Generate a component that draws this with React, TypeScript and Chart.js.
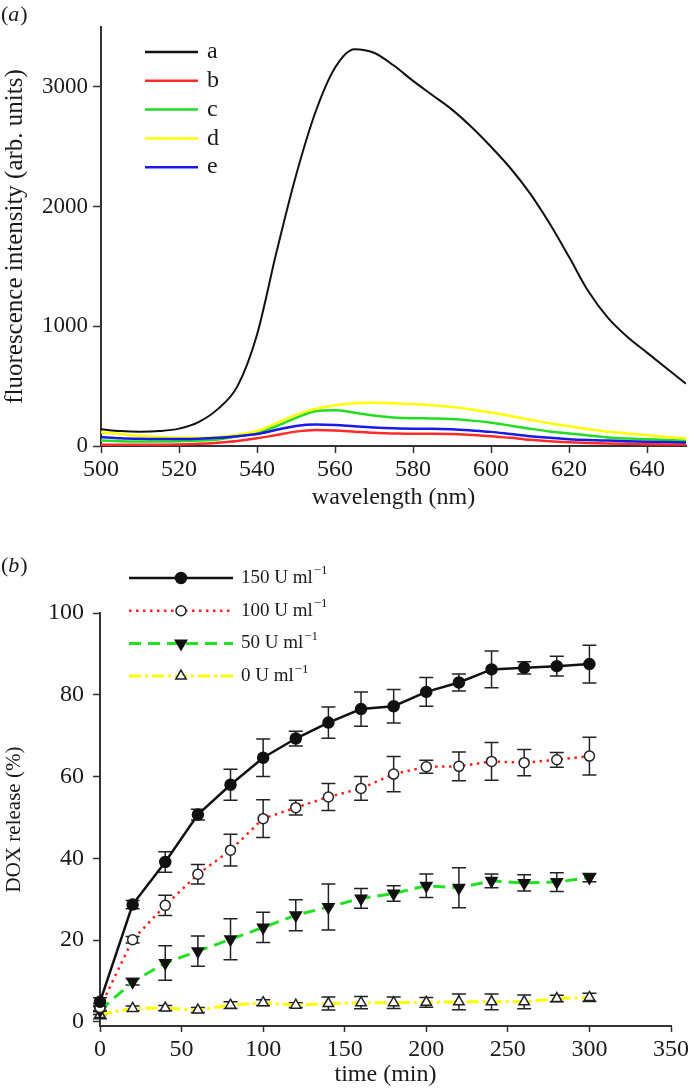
import React, { useEffect, useRef } from "react";
import { Chart, registerables } from "chart.js";
Chart.register(...registerables);

const FONT = '"Liberation Serif", "Times New Roman", serif';
const INK = "#1a1a1a";

// ---------- (a) fluorescence spectra ----------
const wavelengths = [500, 505, 510, 515, 520, 525, 530, 535, 540, 545, 550, 555, 560, 565, 570, 575, 580, 585, 590, 595, 600, 605, 610, 615, 620, 625, 630, 635, 640, 645, 650];
const specA = [140, 125, 120, 125, 145, 200, 310, 500, 930, 1620, 2260, 2790, 3160, 3315, 3285, 3180, 3050, 2930, 2810, 2665, 2500, 2320, 2110, 1860, 1580, 1290, 1070, 910, 780, 650, 520];
const specB = [10, 10, 10, 11, 13, 18, 28, 42, 64, 92, 120, 133, 130, 120, 110, 105, 102, 102, 100, 92, 82, 68, 52, 40, 32, 26, 21, 18, 15, 13, 12];
const specC = [45, 40, 38, 38, 40, 45, 55, 80, 112, 165, 235, 290, 298, 278, 255, 238, 232, 230, 225, 212, 195, 170, 145, 122, 105, 88, 72, 63, 57, 50, 45];
const specD = [115, 100, 85, 75, 68, 68, 75, 95, 125, 190, 260, 310, 340, 358, 362, 358, 350, 340, 325, 305, 280, 250, 220, 190, 165, 140, 120, 105, 90, 75, 62];
const specE = [75, 65, 60, 58, 58, 60, 68, 82, 100, 135, 168, 180, 176, 165, 155, 148, 145, 145, 140, 130, 118, 100, 82, 68, 57, 50, 45, 40, 36, 33, 30];
const specLabels = ["a", "b", "c", "d", "e"];
const specColors = ["#111111", "#ff2b2b", "#22dd22", "#ffff00", "#1a1ae6"];
const specTicksX = [500, 520, 540, 560, 580, 600, 620, 640];
const specTicksY = [0, 1000, 2000, 3000];

// ---------- (b) DOX release ----------
const times = [0, 20, 40, 60, 80, 100, 120, 140, 160, 180, 200, 220, 240, 260, 280, 300];
const rel150 = [4.9, 28.7, 39.1, 50.7, 58.0, 64.6, 69.3, 73.2, 76.5, 77.2, 80.7, 83.0, 86.2, 86.6, 87.0, 87.5];
const err150 = [1.0, 1.0, 2.5, 1.3, 3.8, 4.6, 1.8, 3.8, 4.2, 4.1, 3.5, 2.1, 4.5, 1.5, 2.4, 4.6];
const rel100 = [3.5, 20.1, 28.5, 36.1, 42.0, 49.7, 52.4, 55.0, 57.1, 60.6, 62.4, 62.5, 63.7, 63.4, 64.1, 65.0];
const err100 = [1.0, 0.8, 2.5, 2.4, 3.9, 4.6, 1.8, 3.3, 2.9, 4.3, 1.6, 3.5, 4.6, 3.2, 1.8, 4.6];
const rel50 = [2.8, 9.8, 14.4, 17.3, 20.2, 23.1, 26.1, 28.1, 30.2, 31.4, 33.3, 32.8, 34.5, 34.0, 34.2, 35.3];
const err50 = [1.0, 0.8, 4.2, 3.7, 5.0, 3.7, 3.8, 5.6, 2.4, 1.9, 2.9, 4.9, 1.7, 2.0, 2.3, 1.0];
const rel0 = [1.8, 3.3, 3.4, 2.9, 4.1, 4.7, 4.1, 4.5, 4.7, 4.7, 4.8, 4.9, 4.9, 4.9, 5.7, 6.0];
const err0 = [1.0, 0.6, 0.6, 0.6, 0.8, 0.7, 0.6, 1.6, 1.5, 1.4, 1.2, 1.9, 1.9, 1.7, 0.8, 1.0];
const relLabels = ["150 U ml", "100 U ml", "50 U ml", "0 U ml"];
const relSup = "\u22121";
const relTicksX = [0, 50, 100, 150, 200, 250, 300, 350];
const relTicksY = [0, 20, 40, 60, 80, 100];

function drawMarker(ctx: CanvasRenderingContext2D, style: string, rot: number, r: number, x: number, y: number, fill: string, stroke: string, lw: number) {
  ctx.save();
  ctx.beginPath();
  if (style === "triangle") {
    let rad = (rot * Math.PI) / 180;
    ctx.moveTo(x + Math.sin(rad) * r, y - Math.cos(rad) * r);
    rad += (2 * Math.PI) / 3;
    ctx.lineTo(x + Math.sin(rad) * r, y - Math.cos(rad) * r);
    rad += (2 * Math.PI) / 3;
    ctx.lineTo(x + Math.sin(rad) * r, y - Math.cos(rad) * r);
    ctx.closePath();
  } else {
    ctx.arc(x, y, r, 0, Math.PI * 2);
  }
  ctx.fillStyle = fill;
  ctx.fill();
  ctx.lineWidth = lw;
  ctx.strokeStyle = stroke;
  ctx.setLineDash([]);
  ctx.stroke();
  ctx.restore();
}

function panelLabel(ctx: CanvasRenderingContext2D, letter: string, x: number, y: number) {
  ctx.save();
  ctx.fillStyle = INK;
  ctx.textBaseline = "middle";
  ctx.font = `22px ${FONT}`;
  ctx.fillText("(", x, y);
  let w = ctx.measureText("(").width;
  ctx.font = `italic 22px ${FONT}`;
  ctx.fillText(letter, x + w, y);
  w += ctx.measureText(letter).width;
  ctx.font = `22px ${FONT}`;
  ctx.fillText(")", x + w + 1, y);
  ctx.restore();
}

function makeAxis(opts: any) {
  return {
    type: "linear",
    min: opts.min,
    max: opts.max,
    afterBuildTicks: (s: any) => {
      s.ticks = opts.ticks.map((v: number) => ({ value: v }));
    },
    afterFit: (s: any) => {
      if (opts.width !== undefined) s.width = opts.width;
      if (opts.height !== undefined) s.height = opts.height;
    },
    grid: { drawOnChartArea: false, drawTicks: true, tickLength: opts.tickLength, tickColor: "#333", tickWidth: 1.5 },
    border: { display: true, color: "#333", width: 2 },
    ticks: {
      color: INK,
      font: { family: FONT, size: opts.tickSize },
      padding: opts.tickPad,
      maxRotation: 0,
      autoSkip: false,
      callback: (v: any) => String(v),
    },
    title: { display: true, text: opts.title, color: INK, font: { family: FONT, size: opts.titleSize }, padding: opts.titlePad },
  };
}

export default function App() {
  const topRef = useRef<HTMLCanvasElement>(null);
  const botRef = useRef<HTMLCanvasElement>(null);

  useEffect(() => {
    const specSeries = [specA, specB, specC, specD, specE];
    const specLegend = {
      id: "specLegend",
      afterDraw(chart: any) {
        const ctx = chart.ctx;
        ctx.save();
        chart.data.datasets.forEach((ds: any, i: number) => {
          const y = 52 + i * 28.8;
          ctx.beginPath();
          ctx.strokeStyle = ds.borderColor;
          ctx.lineWidth = 2.5;
          ctx.moveTo(145, y);
          ctx.lineTo(198, y);
          ctx.stroke();
          ctx.fillStyle = INK;
          ctx.font = `24px ${FONT}`;
          ctx.textBaseline = "middle";
          ctx.fillText(ds.label, 207, y);
        });
        ctx.restore();
        panelLabel(ctx, "a", 1, 15);
      },
    };
    const top = new Chart(topRef.current!, {
      type: "line",
      data: {
        datasets: specSeries.map((arr, i) => ({
          label: specLabels[i],
          data: wavelengths.map((w, j) => ({ x: w, y: arr[j] })),
          borderColor: specColors[i],
          borderWidth: i === 0 ? 2 : 2.5,
          pointRadius: 0,
          cubicInterpolationMode: "monotone",
          fill: false,
          order: i === 0 ? 0 : 5 - i,
        })),
      },
      options: {
        animation: false,
        responsive: false,
        devicePixelRatio: 1,
        layout: { padding: { left: 0, right: 6, top: 27, bottom: 0 } },
        plugins: { legend: { display: false }, tooltip: { enabled: false } },
        scales: {
          x: makeAxis({ min: 500, max: 650, ticks: specTicksX, height: 74, tickLength: 7, tickSize: 24, tickPad: 2, title: "wavelength (nm)", titleSize: 24, titlePad: { top: 0, bottom: 8 } }),
          y: makeAxis({ min: 0, max: 3500, ticks: specTicksY, width: 101, tickLength: 8, tickSize: 23, tickPad: 5, title: "fluorescence intensity (arb. units)", titleSize: 25, titlePad: { top: 0, bottom: 0 } }),
        },
      } as any,
      plugins: [specLegend],
    });

    const relSeries = [rel150, rel100, rel50, rel0];
    const relErrs = [err150, err100, err50, err0];
    const relStyles = [
      { color: "#111111", width: 2.5, dash: [] as number[], pStyle: "circle", rot: 0, r: 5.5, pFill: "#111111", pStroke: "#111111" },
      { color: "#ff2020", width: 2.5, dash: [2.5, 4.5], pStyle: "circle", rot: 0, r: 5, pFill: "#ffffff", pStroke: "#222222" },
      { color: "#22e022", width: 3, dash: [12, 7], pStyle: "triangle", rot: 180, r: 6.5, pFill: "#111111", pStroke: "#111111" },
      { color: "#ffff00", width: 3, dash: [12, 4, 3, 4], pStyle: "triangle", rot: 0, r: 6, pFill: "#ffffff", pStroke: "#222222" },
    ];

    const errorBars = {
      id: "errorBars",
      beforeDatasetsDraw(chart: any) {
        const { ctx, scales } = chart;
        ctx.save();
        ctx.strokeStyle = "#222";
        ctx.lineWidth = 1.5;
        ctx.setLineDash([]);
        chart.data.datasets.forEach((ds: any) => {
          const errs = ds.errors;
          if (!errs) return;
          ds.data.forEach((p: any, i: number) => {
            const px = scales.x.getPixelForValue(p.x);
            const t = scales.y.getPixelForValue(p.y + errs[i]);
            const b = scales.y.getPixelForValue(p.y - errs[i]);
            ctx.beginPath();
            ctx.moveTo(px, t);
            ctx.lineTo(px, b);
            ctx.moveTo(px - 7, t);
            ctx.lineTo(px + 7, t);
            ctx.moveTo(px - 7, b);
            ctx.lineTo(px + 7, b);
            ctx.stroke();
          });
        });
        ctx.restore();
      },
    };
    const relLegend = {
      id: "relLegend",
      afterDraw(chart: any) {
        const ctx = chart.ctx;
        chart.data.datasets.forEach((ds: any, i: number) => {
          const st = relStyles[i];
          const y = 58 + i * 32.7;
          ctx.save();
          ctx.beginPath();
          ctx.strokeStyle = st.color;
          ctx.lineWidth = st.width;
          ctx.setLineDash(st.dash);
          ctx.moveTo(129, y);
          ctx.lineTo(233, y);
          ctx.stroke();
          ctx.restore();
          drawMarker(ctx, st.pStyle, st.rot, st.r, 181, y, st.pFill, st.pStroke, 1.5);
          ctx.save();
          ctx.fillStyle = INK;
          ctx.textBaseline = "middle";
          ctx.font = `19px ${FONT}`;
          ctx.fillText(ds.label, 241, y);
          const w = ctx.measureText(ds.label).width;
          ctx.font = `13px ${FONT}`;
          ctx.fillText(relSup, 241 + w + 1, y - 7);
          ctx.restore();
        });
        panelLabel(ctx, "b", 1, 46);
      },
    };

    const bot = new Chart(botRef.current!, {
      type: "line",
      data: {
        datasets: relSeries.map((arr, i) => ({
          label: relLabels[i],
          data: times.map((t, j) => ({ x: t, y: arr[j] })),
          errors: relErrs[i],
          borderColor: relStyles[i].color,
          borderWidth: relStyles[i].width,
          borderDash: relStyles[i].dash,
          tension: 0,
          pointStyle: relStyles[i].pStyle,
          rotation: relStyles[i].rot,
          pointRotation: relStyles[i].rot,
          pointRadius: relStyles[i].r,
          pointBackgroundColor: relStyles[i].pFill,
          pointBorderColor: relStyles[i].pStroke,
          pointBorderWidth: 1.5,
          fill: false,
          clip: false,
        })),
      },
      options: {
        animation: false,
        responsive: false,
        devicePixelRatio: 1,
        layout: { padding: { left: 0, right: 16, top: 93, bottom: 0 } },
        plugins: { legend: { display: false }, tooltip: { enabled: false } },
        scales: {
          x: makeAxis({ min: 0, max: 350, ticks: relTicksX, height: 66, tickLength: 6, tickSize: 24, tickPad: 3, title: "time (min)", titleSize: 24, titlePad: { top: 0, bottom: 3 } }),
          y: makeAxis({ min: -1, max: 100, ticks: relTicksY, width: 100, tickLength: 7, tickSize: 24, tickPad: 9, title: "DOX release (%)", titleSize: 21, titlePad: { top: 2, bottom: 0 } }),
        },
      } as any,
      plugins: [errorBars, relLegend],
    });

    return () => {
      top.destroy();
      bot.destroy();
    };
  }, []);

  return (
    <div style={{ position: "absolute", left: 0, top: 0, width: 692, height: 1092, background: "#fff" }}>
      <canvas ref={topRef} width={692} height={520} style={{ position: "absolute", left: 0, top: 0, width: 692, height: 520 }} />
      <canvas ref={botRef} width={692} height={572} style={{ position: "absolute", left: 0, top: 520, width: 692, height: 572 }} />
    </div>
  );
}
